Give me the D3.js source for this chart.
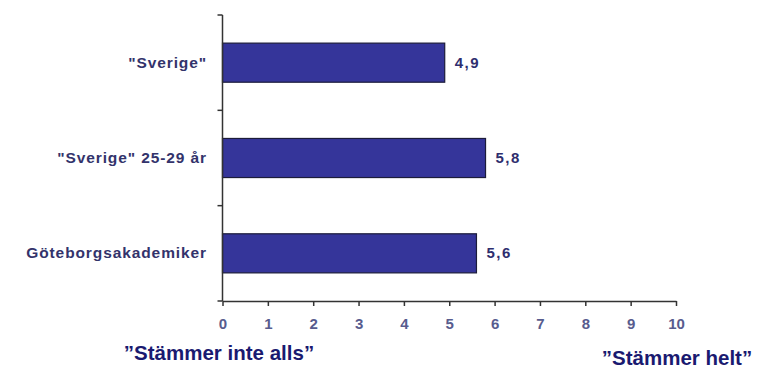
<!DOCTYPE html>
<html lang="sv">
<head>
    <meta charset="utf-8">
    <title>Stämmer</title>
    <script src="https://d3js.org/d3.v7.min.js"></script>
    <style>
        body{margin:0;background:#fff;}
        svg{display:block;font-family:"Liberation Sans",Arial,sans-serif;}
    </style>
</head>
<body>
<svg width="757" height="368"></svg>
<script>
    var categories = ['"Sverige"', '"Sverige" 25-29 år', "Göteborgsakademiker"];
    var values = [4.9, 5.8, 5.6];
    var valueLabels = ["4,9", "5,8", "5,6"];
    var xTicks = [0,1,2,3,4,5,6,7,8,9,10];
    var titleLeft = "\u201DStämmer inte alls\u201D";
    var titleRight = "\u201DStämmer helt\u201D";

    var svg = d3.select("svg");
    var x0 = 222.5, x1 = 676, yTop = 15, yBot = 301;

    var xScale = d3.scaleLinear().domain([0,10]).range([x0,x1]);
    var yScale = d3.scaleBand().domain(categories).range([yTop,yBot]);
    var step = yScale.step();
    var barH = step*0.41;

    // staplar
    svg.selectAll(".bar")
        .data(values)
        .enter()
        .append("rect")
        .attr("x", xScale(0))
        .attr("y", function(d,i){ return yScale(categories[i]) + (step-barH)/2; })
        .attr("width", function(d){ return xScale(d)-xScale(0); })
        .attr("height", barH)
        .attr("fill", "#35359a")
        .attr("stroke", "#1c1c3a")
        .attr("stroke-width", 1.2);

    // värden
    svg.selectAll(".val")
        .data(values)
        .enter()
        .append("text")
        .attr("x", function(d){ return xScale(d)+10; })
        .attr("y", function(d,i){ return yScale(categories[i]) + step/2 + 5; })
        .attr("font-size", 15)
        .attr("font-weight", "bold")
        .attr("letter-spacing", 1.5)
        .attr("fill", "#2e2e6e")
        .text(function(d,i){ return valueLabels[i]; });

    // kategorier
    svg.selectAll(".cat")
        .data(categories)
        .enter()
        .append("text")
        .attr("x", 207)
        .attr("y", function(d){ return yScale(d) + step/2 + 5; })
        .attr("text-anchor", "end")
        .attr("font-size", 15.5)
        .attr("font-weight", "bold")
        .attr("letter-spacing", 0.9)
        .attr("fill", "#33336b")
        .text(function(d){ return d; });

    // y-axel
    svg.append("line")
        .attr("x1", x0).attr("x2", x0)
        .attr("y1", yTop).attr("y2", yBot)
        .attr("stroke", "#333").attr("stroke-width", 1.5);
    var bounds = categories.map(function(c){ return yScale(c); }).concat([yBot]);
    svg.selectAll(".ytick")
        .data(bounds)
        .enter()
        .append("line")
        .attr("x1", x0-5).attr("x2", x0)
        .attr("y1", function(d){ return d; }).attr("y2", function(d){ return d; })
        .attr("stroke", "#333").attr("stroke-width", 1.5);

    // x-axel
    var xAxis = d3.axisBottom(xScale)
        .tickValues(xTicks)
        .tickSize(5)
        .tickSizeOuter(0)
        .tickFormat(d3.format("d"));
    var gx = svg.append("g")
        .attr("transform", "translate(0," + yBot + ")")
        .call(xAxis);
    gx.select(".domain").attr("stroke", "#333").attr("stroke-width", 1.5);
    gx.selectAll(".tick line").attr("stroke", "#333").attr("stroke-width", 1.5);
    gx.selectAll(".tick text")
        .attr("y", 28)
        .attr("dy", null)
        .attr("font-size", 15)
        .attr("font-weight", "bold")
        .attr("font-family", "Liberation Sans, Arial, sans-serif")
        .attr("fill", "#585c8e");

    // titlar
    svg.append("text")
        .attr("x", 219).attr("y", 360)
        .attr("text-anchor", "middle")
        .attr("font-size", 20.5)
        .attr("font-weight", "bold")
        .attr("fill", "#1a1a70")
        .text(titleLeft);
    svg.append("text")
        .attr("x", 677).attr("y", 365)
        .attr("text-anchor", "middle")
        .attr("font-size", 20.5)
        .attr("font-weight", "bold")
        .attr("fill", "#1a1a70")
        .text(titleRight);
</script>
</body>
</html>
